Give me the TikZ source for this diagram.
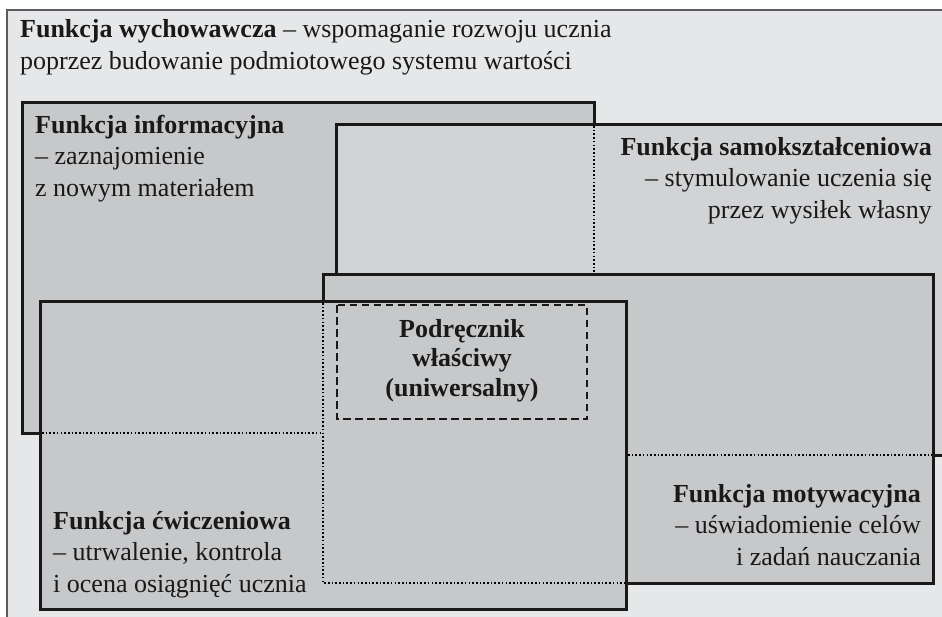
\documentclass[tikz,border=0pt]{standalone}
\usepackage{fontspec}
\setmainfont{Liberation Serif}
\definecolor{bgcol}{HTML}{E6E7E8}
\definecolor{darkbox}{HTML}{C7C8CA}
\definecolor{lightbox}{HTML}{D2D3D5}
\definecolor{framecol}{HTML}{5A5A5C}
\begin{document}
\begin{tikzpicture}[x=1pt,y=-1pt,
  boxdk/.style={fill=darkbox,draw=black!90,line width=3pt},
  boxlt/.style={fill=lightbox,draw=black!90,line width=3pt},
  hidden/.style={draw=black,line width=1.7pt,dash pattern=on 1.6pt off 2.1pt},
  dashbox/.style={draw=black!90,line width=2.4pt,dash pattern=on 7.5pt off 4.5pt},
  txt/.style={inner sep=0pt,font=\fontsize{26}{31.5}\selectfont,text=black!90},
  btxt/.style={inner sep=0pt,font=\fontsize{26}{29.5}\selectfont\bfseries,text=black!90}]
\useasboundingbox (0,0) rectangle (942,616);
\clip (0,0) rectangle (942,616);
% outer frame
\draw[fill=bgcol,draw=framecol,line width=1.6pt] (7,10) rectangle (990,660);
% informacyjna
\draw[boxdk] (22,102) rectangle (594,433);
% samoksztalceniowa
\draw[boxlt] (336,124) rectangle (990,455);
\draw[hidden] (594,126) -- (594,272.5);
% motywacyjna
\draw[boxdk] (323,274) rectangle (933,583);
\draw[hidden] (628,455) -- (931.5,455);
% cwiczeniowa
\draw[boxdk] (40,301) rectangle (626,609);
\draw[hidden] (42,433) -- (323,433);
\draw[hidden] (323,303) -- (323,583) -- (624.5,583);
% podrecznik
\draw[dashbox] (337,305) rectangle (587,419);
% texts (base anchor = last line baseline)
\node[txt,anchor=base west,align=left] (title) at (20,69)
  {\textbf{Funkcja wychowawcza} – wspomaganie rozwoju ucznia\\poprzez budowanie podmiotowego systemu wartości};
\node[txt,anchor=base west,align=left] (info) at (35,196)
  {\textbf{Funkcja informacyjna}\\– zaznajomienie\\z nowym materiałem};
\node[txt,anchor=base east,align=right] (self) at (932,218)
  {\textbf{Funkcja samokształceniowa}\\– stymulowanie uczenia się\\przez wysiłek własny};
\node[btxt,anchor=base,align=center] (podr) at (462,396)
  {Podręcznik\\właściwy\\(uniwersalny)};
\node[txt,anchor=base east,align=right] (motiv) at (921,565)
  {\textbf{Funkcja motywacyjna}\\– uświadomienie celów\\i zadań nauczania};
\node[txt,anchor=base west,align=left] (exer) at (53,592)
  {\textbf{Funkcja ćwiczeniowa}\\– utrwalenie, kontrola\\i ocena osiągnięć ucznia};
\end{tikzpicture}
\end{document}
